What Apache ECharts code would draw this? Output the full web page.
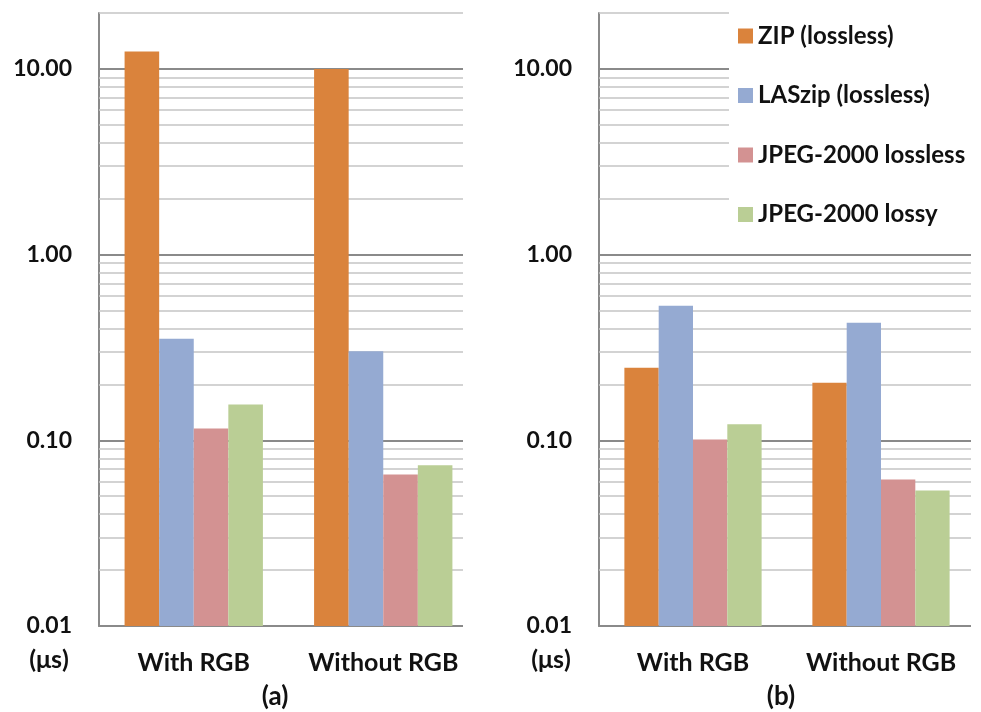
<!DOCTYPE html>
<html>
<head>
<meta charset="utf-8">
<script src="https://cdn.jsdelivr.net/npm/echarts@6/dist/echarts.min.js"></script>
<style>html,body{margin:0;padding:0;background:#fff}#c{width:981px;height:712px}</style>
</head>
<body>
<div id="c"></div>
<script>
const categories = ['With RGB', 'Without RGB'];
const seriesNames = ['ZIP (lossless)', 'LASzip (lossless)', 'JPEG-2000 lossless', 'JPEG-2000 lossy'];
const colors = ['#DA833C', '#95AAD2', '#D39292', '#BACE95'];
// panel (a)
const zipA = [12.4, 10.0];
const laszipA = [0.352, 0.302];
const jpLosslessA = [0.1156, 0.0654];
const jpLossyA = [0.156, 0.0734];
// panel (b)
const zipB = [0.246, 0.204];
const laszipB = [0.530, 0.430];
const jpLosslessB = [0.101, 0.0616];
const jpLossyB = [0.122, 0.0536];
const minorTicks = [0.02,0.03,0.04,0.05,0.06,0.07,0.08,0.09,0.2,0.3,0.4,0.5,0.6,0.7,0.8,0.9,2,3,4,5,6,7,8,9,20];
const majorTicks = [0.1, 1, 10];
const axisMin = 0.01;
const axisMax = 20;
const unitLabel = '(\u03bcs)';
const panelLabels = ['(a)', '(b)'];

const FONT = 'Lato';
const chart = echarts.init(document.getElementById('c'));

function gridLines() {
  return {
    silent: true, symbol: 'none', z: 1,
    label: { show: false },
    data: minorTicks.map(v => ({ yAxis: v, lineStyle: { color: '#c4c4c4', width: 1.5, type: 'solid' } }))
      .concat(majorTicks.map(v => ({ yAxis: v, lineStyle: { color: '#8a8a8a', width: 2, type: 'solid' } })))
  };
}
function yAx(idx) {
  return {
    type: 'log', logBase: 10, gridIndex: idx, min: axisMin, max: axisMax, interval: 1,
    axisLine: { show: true, lineStyle: { color: '#8a8a8a', width: 2 } },
    axisTick: { show: false },
    splitLine: { show: false },
    axisLabel: {
      margin: 27, fontFamily: FONT, fontWeight: 'bold', fontSize: 23, color: '#111',
      formatter: v => (v > 15 ? '' : Number(v).toFixed(2))
    }
  };
}
function xAx(idx) {
  return {
    type: 'category', gridIndex: idx, data: categories,
    axisLine: { show: true, onZero: false, lineStyle: { color: '#8a8a8a', width: 2 } },
    axisTick: { show: false },
    axisLabel: { interval: 0, hideOverlap: false, margin: 24, fontFamily: FONT, fontWeight: 'bold', fontSize: 25, color: '#111' }
  };
}
const GAP = 0.27; // category gap fraction
function makeRender(k, n) {
  return function (params, api) {
    const ci = api.value(0);
    const v = api.value(1);
    const top = api.coord([ci, v]);
    const base = api.coord([ci, axisMin]);
    const catW = api.size([1, 0])[0];
    const bw = catW * (1 - GAP) / n;
    const x0 = top[0] - bw * n / 2 + k * bw;
    return {
      type: 'rect',
      shape: { x: x0, y: top[1], width: bw, height: base[1] - top[1] },
      style: { fill: colors[k] }
    };
  };
}
const dataA = [zipA, laszipA, jpLosslessA, jpLossyA];
const dataB = [zipB, laszipB, jpLosslessB, jpLossyB];
const series = [];
[dataA, dataB].forEach((set, p) => {
  series.push({
    type: 'line', name: 'grid' + p, xAxisIndex: p, yAxisIndex: p, data: [], silent: true,
    markLine: gridLines()
  });
  set.forEach((d, i) => {
    series.push({
      name: seriesNames[i], type: 'custom', xAxisIndex: p, yAxisIndex: p,
      data: d.map((v, j) => [j, v]),
      encode: { x: 0, y: 1 },
      itemStyle: { color: colors[i] }, z: 3,
      renderItem: makeRender(i, set.length)
    });
  });
});

chart.setOption({
  animation: false,
  backgroundColor: '#fff',
  grid: [
    { left: 99, width: 379, top: 13, bottom: 86 },
    { left: 599, width: 376, top: 13, bottom: 86 }
  ],
  xAxis: [xAx(0), xAx(1)],
  yAxis: [yAx(0), yAx(1)],
  legend: {
    orient: 'vertical', left: 733, top: 19, z: 200,
    itemWidth: 15, itemHeight: 15, itemGap: 35.5,
    icon: 'rect',
    textStyle: { fontFamily: FONT, fontWeight: 'bold', fontSize: 24, color: '#111', lineHeight: 20 },
    data: seriesNames
  },
  series: series,
  graphic: [
    { type: 'rect', z: 100, silent: true, shape: { x: 463, y: 0, width: 40, height: 640 }, style: { fill: '#fff' } },
    { type: 'rect', z: 100, silent: true, shape: { x: 971, y: 0, width: 12, height: 640 }, style: { fill: '#fff' } },
    { type: 'rect', z: 100, silent: true, shape: { x: 729, y: 0, width: 252, height: 245 }, style: { fill: '#fff' } },
    { type: 'text', z: 100, x: 49, y: 660, style: { text: unitLabel, font: 'bold 25px ' + FONT, fill: '#111', align: 'center', verticalAlign: 'middle' } },
    { type: 'text', z: 100, x: 551, y: 660, style: { text: unitLabel, font: 'bold 25px ' + FONT, fill: '#111', align: 'center', verticalAlign: 'middle' } },
    { type: 'text', z: 100, x: 275, y: 697, style: { text: panelLabels[0], font: 'bold 26px ' + FONT, fill: '#111', align: 'center', verticalAlign: 'middle' } },
    { type: 'text', z: 100, x: 781, y: 697, style: { text: panelLabels[1], font: 'bold 26px ' + FONT, fill: '#111', align: 'center', verticalAlign: 'middle' } }
  ]
});
</script>
</body>
</html>
